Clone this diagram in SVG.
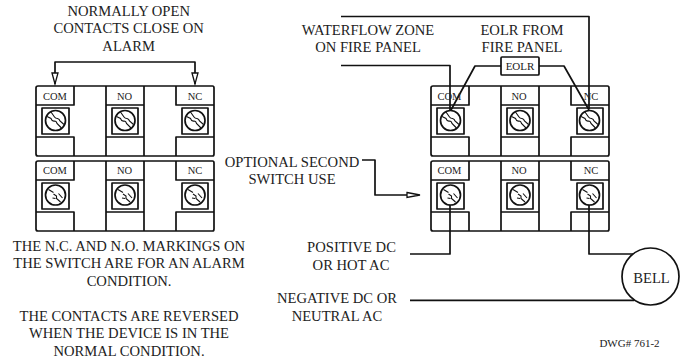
<svg xmlns="http://www.w3.org/2000/svg" width="686" height="360" viewBox="0 0 686 360">
<style>
text{font-family:"Liberation Serif","Times New Roman",serif;fill:#222;text-anchor:middle}
.t{font-size:14.600px}
.s{font-size:10.500px}
.b{font-size:11px}
.d{font-size:11px}
.l{fill:none;stroke:#111;stroke-width:1.700;stroke-linejoin:round}
.w{fill:none;stroke:#111;stroke-width:1.700;stroke-linejoin:round}
.c{fill:none;stroke:#111;stroke-width:1.700}
.z{fill:none;stroke:#111;stroke-width:1.100}
.h{fill:#fff;stroke:#111;stroke-width:1.300}
</style>
<defs>
<g id="frame">
<path class="l" d="M2 0H176.500Q178 0 178 2V68Q178 70 176.500 70H2Q0 70 0 68V2Q0 0 2 0Z"/>
<path class="l" d="M0 19H38V0M38 70V51H0M70 0V70M108 0V70M70 19H108M70 51H108M140 0V19H178M140 70V51H178"/>
<path class="l" d="M6 22H33V48H6ZM76 22H102V48H76ZM146 22H172V48H146Z"/>
</g>
<g id="screwA"><circle class="c" r="10"/><path class="z" d="M-8.500 -4L-4.500 -2Q-3.500 1 -1 0.500Q1 0.500 1.500 3L6 7.500M-4.500 -8.500L-1 -3.500Q0 -2 2 -2Q4 -1.500 4.500 0.500L8.500 4"/></g>
<g id="screwB"><circle class="c" r="10"/><path class="z" d="M-7 -5.500L-2 -2.500M-2 -1L1 1 1 3.500 5 7M-3 3L0 3.500M3 -1.500L7 3"/></g>
</defs>

<g id="connectors">
<path class="w" d="M55 84V62H195V84"/>
<path d="M52 73L55 84 58 73Z" class="h"/>
<path d="M192 73L195 84 198 73Z" class="h"/>
<path class="w" d="M362 160H375V195H417"/>
<path d="M407 192.500L420 195 407 197.500Z" class="h"/>
<path class="w" d="M341 16.500H589V109"/>
<path class="w" d="M341 65.500H450V110"/>
<path class="w" d="M501 66H475L451 110"/>
<path class="w" d="M539 66H564L589 110"/>
<path class="w" d="M450 205V254H410"/>
<path class="w" d="M589 205V254H633"/>
<path class="w" d="M410 300.300H634"/>
</g>

<g id="switch-left-top">
<use href="#frame" x="36" y="86"/>
<text class="s" x="55" y="99.500">COM</text><text class="s" x="124.500" y="99.500">NO</text><text class="s" x="195" y="99.500">NC</text>
<use href="#screwA" x="55.500" y="120.500"/><use href="#screwA" x="125" y="120.500"/><use href="#screwA" x="195" y="120.500"/>
</g>
<g id="switch-left-bottom">
<use href="#frame" x="36" y="161"/>
<text class="s" x="55" y="174">COM</text><text class="s" x="124.500" y="174">NO</text><text class="s" x="195" y="174">NC</text>
<use href="#screwB" x="55.500" y="195"/><use href="#screwB" x="125" y="195"/><use href="#screwB" x="195" y="195"/>
</g>
<g id="switch-right-top">
<use href="#frame" x="431" y="86"/>
<text class="s" x="449.500" y="99.500">COM</text><text class="s" x="519" y="99.500">NO</text><text class="s" x="591" y="99.500">NC</text>
<use href="#screwA" x="450.500" y="120.500"/><use href="#screwA" x="520" y="120.500"/><use href="#screwA" x="589.500" y="120.500"/>
</g>
<g id="switch-right-bottom">
<use href="#frame" x="431" y="161"/>
<text class="s" x="449.500" y="174">COM</text><text class="s" x="519" y="174">NO</text><text class="s" x="591" y="174">NC</text>
<use href="#screwB" x="450.500" y="195"/><use href="#screwB" x="520" y="195"/><use href="#screwB" x="589.500" y="195"/>
</g>
<g id="eolr">
<rect x="501" y="57" width="38" height="18" rx="1" fill="#fff" stroke="#111" stroke-width="1.700"/>
<text class="b" x="520" y="70">EOLR</text>
</g>
<g id="bell">
<circle cx="650.500" cy="276.500" r="28.500" fill="#fff" stroke="#111" stroke-width="1.700"/>
<text class="t" x="651.500" y="283">BELL</text>
</g>
<g id="labels">
<text class="t" x="128.700" y="15.500">NORMALLY OPEN</text>
<text class="t" x="128.700" y="33">CONTACTS CLOSE ON</text>
<text class="t" x="128.700" y="51">ALARM</text>
<text class="t" x="368" y="35">WATERFLOW ZONE</text>
<text class="t" x="368" y="52">ON FIRE PANEL</text>
<text class="t" x="522" y="35">EOLR FROM</text>
<text class="t" x="522" y="52">FIRE PANEL</text>
<text class="t" x="292" y="167">OPTIONAL SECOND</text>
<text class="t" x="292" y="184">SWITCH USE</text>
<text class="t" x="351.500" y="252">POSITIVE DC</text>
<text class="t" x="351" y="270">OR HOT AC</text>
<text class="t" x="337" y="303">NEGATIVE DC OR</text>
<text class="t" x="337" y="321">NEUTRAL AC</text>
<text class="t" x="129" y="251">THE N.C. AND N.O. MARKINGS ON</text>
<text class="t" x="129" y="268">THE SWITCH ARE FOR AN ALARM</text>
<text class="t" x="129" y="286">CONDITION.</text>
<text class="t" x="129" y="321">THE CONTACTS ARE REVERSED</text>
<text class="t" x="129" y="338">WHEN THE DEVICE IS IN THE</text>
<text class="t" x="129" y="356">NORMAL CONDITION.</text>
<text class="d" x="629.500" y="347">DWG# 761-2</text>
</g>
</svg>
